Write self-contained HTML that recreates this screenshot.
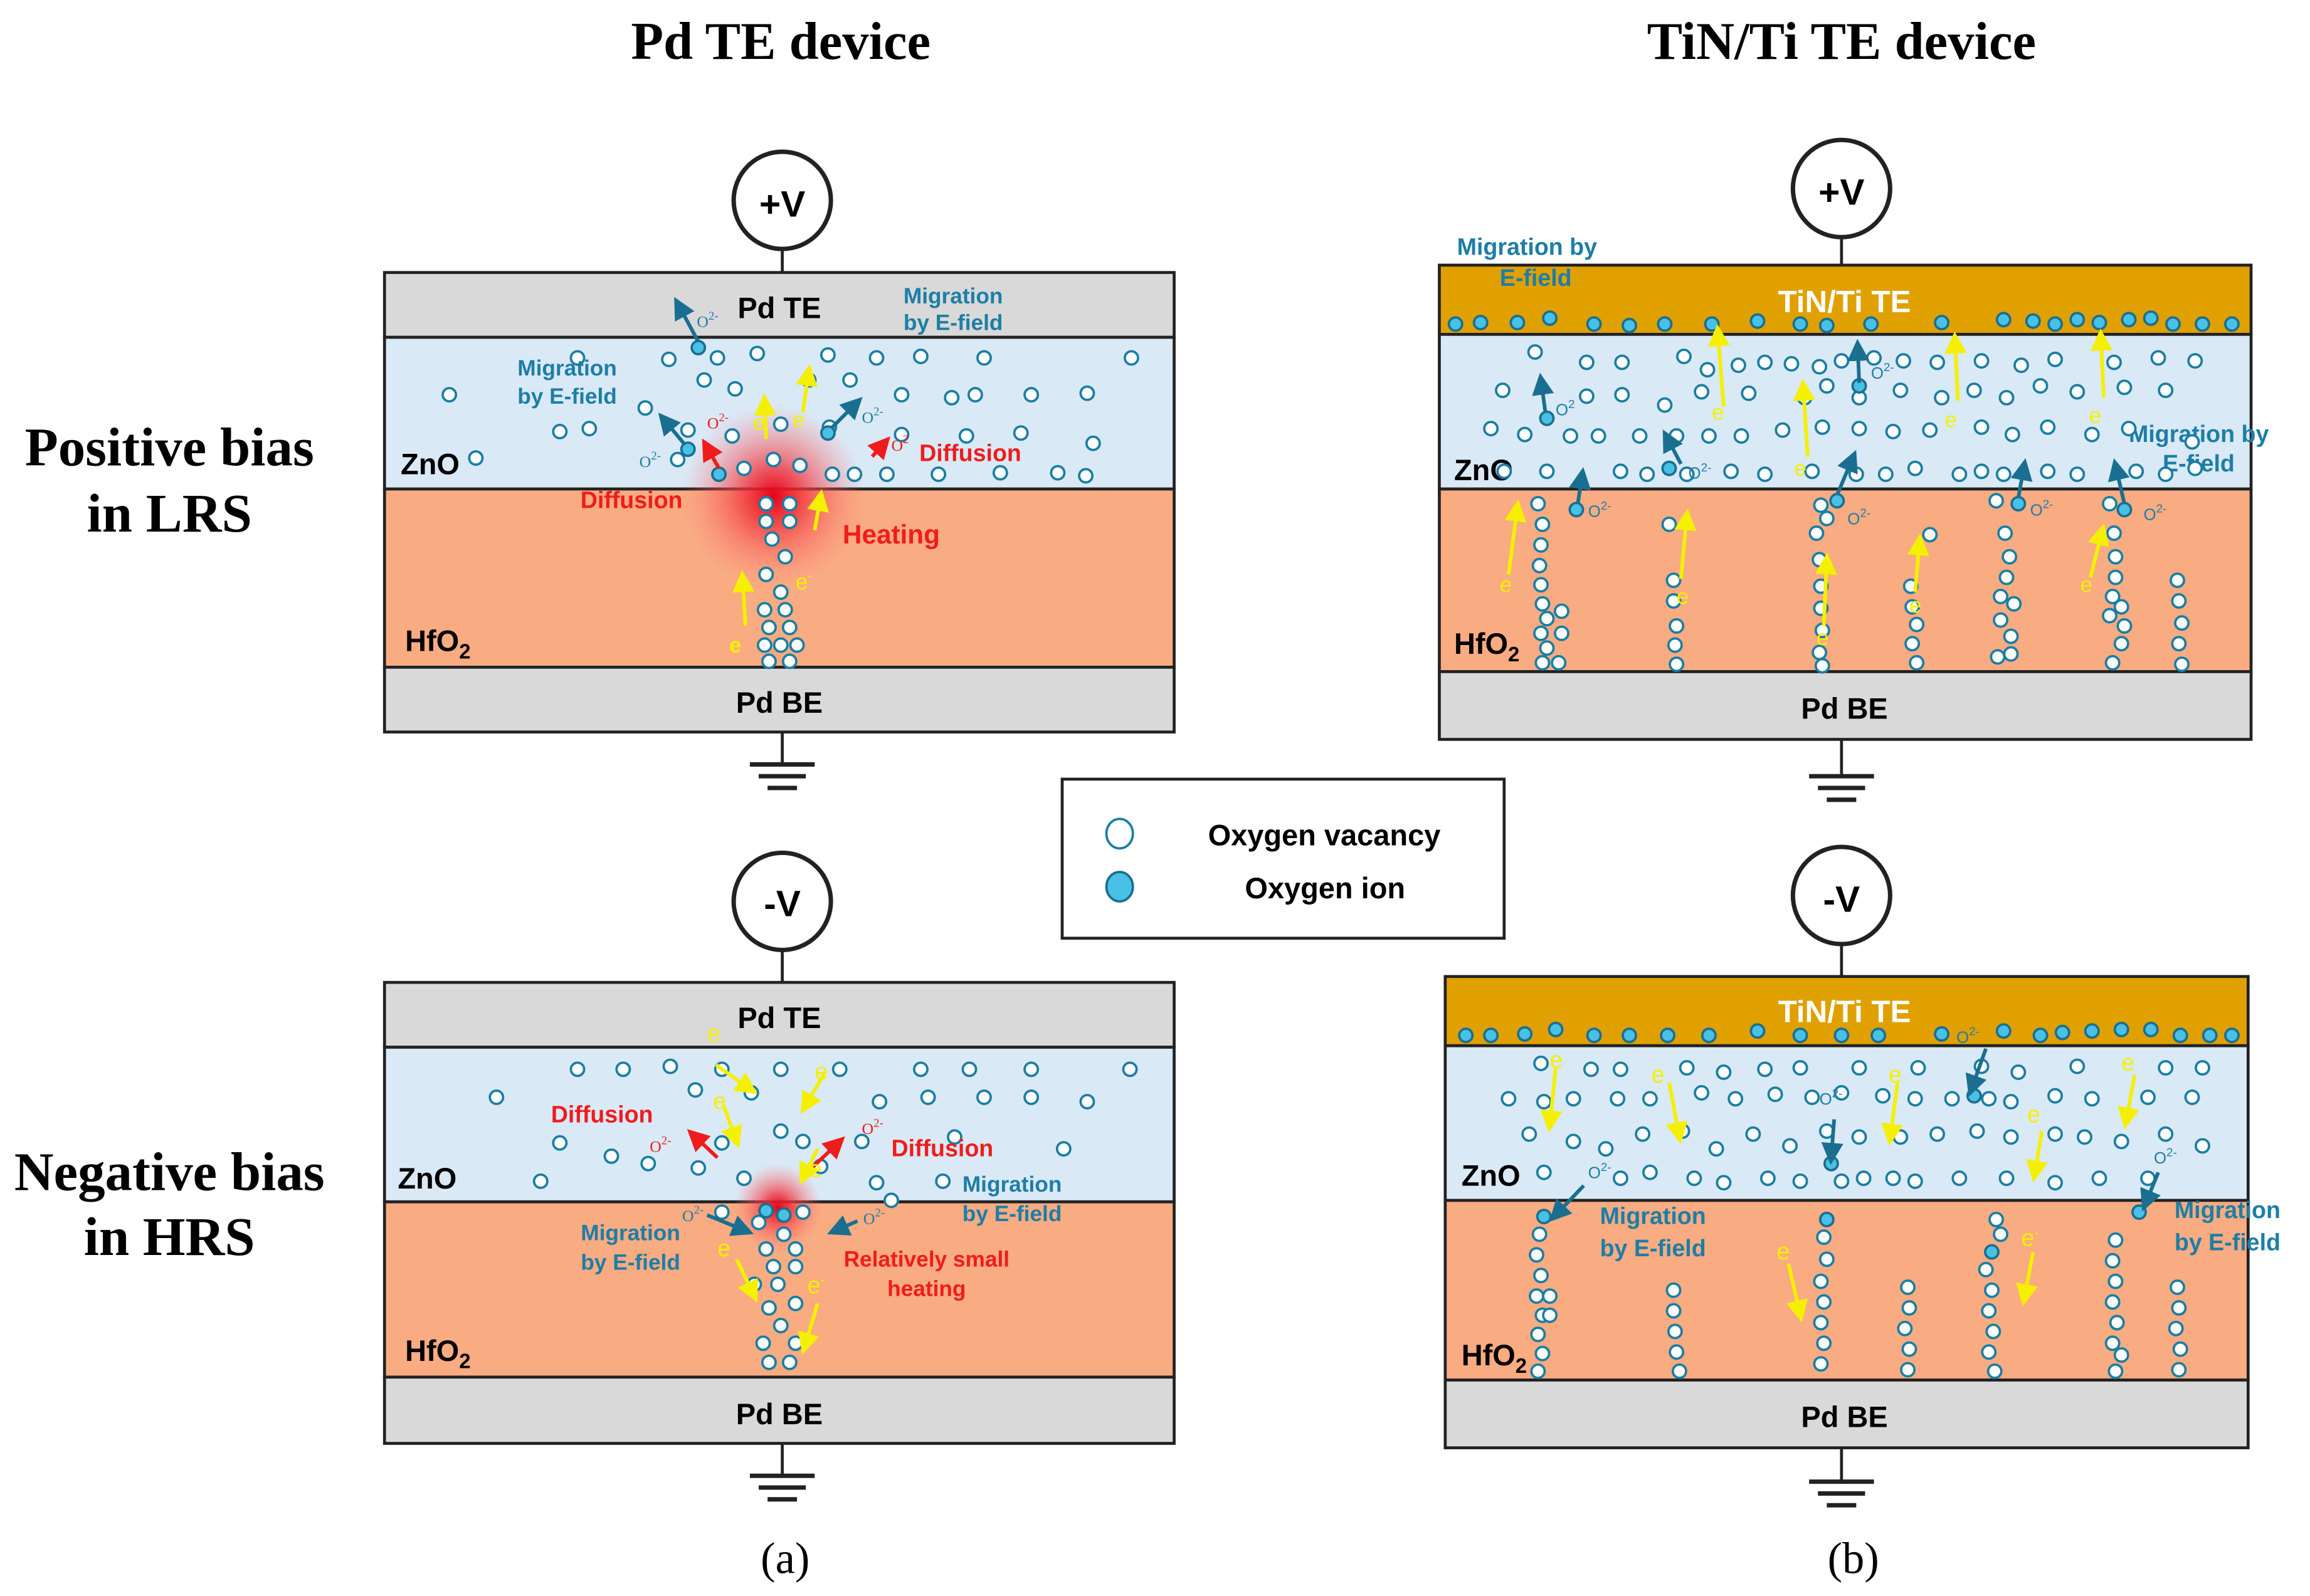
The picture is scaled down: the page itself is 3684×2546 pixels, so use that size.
<!DOCTYPE html>
<html><head><meta charset="utf-8"><style>
html,body{margin:0;padding:0;background:#fff}
svg{display:block}
.v{fill:#fff;stroke:#1a7ea3;stroke-width:1.6}
.i{fill:#49c0e6;stroke:#1a6f90;stroke-width:1.6}
.lb{font-family:"Liberation Sans",sans-serif;font-weight:bold}
.sf{font-family:"Liberation Serif",serif;font-weight:bold}
.bl{fill:#1d7ea6}
.rd{fill:#f01c1c}
.ye{fill:#f4f000}
</style></head><body>
<svg width="3684" height="2546" viewBox="0 0 1568 1083.6" xmlns="http://www.w3.org/2000/svg">
<defs>
<marker id="ab" markerWidth="6" markerHeight="6" refX="4" refY="3" orient="auto"><path d="M0,0 L6,3 L0,6z" fill="#1a6f90"/></marker>
<marker id="ar" markerWidth="6" markerHeight="6" refX="4" refY="3" orient="auto"><path d="M0,0 L6,3 L0,6z" fill="#f01c1c"/></marker>
<marker id="ay" markerWidth="6" markerHeight="6" refX="4" refY="3" orient="auto"><path d="M0,0 L6,3 L0,6z" fill="#f4f000"/></marker>
<radialGradient id="heat"><stop offset="0" stop-color="#e8001a"/><stop offset="0.3" stop-color="#f0303a" stop-opacity="0.8"/><stop offset="1" stop-color="#ff8080" stop-opacity="0"/></radialGradient>
</defs>

<!-- titles -->
<text x="530" y="40" text-anchor="middle" class="sf" font-size="36">Pd TE device</text>
<text x="1250" y="40" text-anchor="middle" class="sf" font-size="36">TiN/Ti TE device</text>
<text x="115" y="316" text-anchor="middle" class="sf" font-size="37">Positive bias</text>
<text x="115" y="361" text-anchor="middle" class="sf" font-size="37">in LRS</text>
<text x="115" y="808" text-anchor="middle" class="sf" font-size="37">Negative bias</text>
<text x="115" y="852" text-anchor="middle" class="sf" font-size="37">in HRS</text>
<text x="533" y="1068" text-anchor="middle" font-family="Liberation Serif,serif" font-size="30">(a)</text>
<text x="1258" y="1068" text-anchor="middle" font-family="Liberation Serif,serif" font-size="30">(b)</text>

<!-- ===== Panel a top ===== -->
<g stroke="#222" stroke-width="2">
<line x1="531" y1="169" x2="531" y2="185"/>
<circle cx="531" cy="136" r="33" fill="#fff" stroke-width="3"/>
<rect x="261" y="185" width="536" height="44" fill="#d9d9d9"/>
<rect x="261" y="229" width="536" height="103" fill="#dae9f6"/>
<rect x="261" y="332" width="536" height="121" fill="#f9ab82"/>
<rect x="261" y="453" width="536" height="44" fill="#d9d9d9"/>
<line x1="531" y1="497" x2="531" y2="518"/>
<line x1="509" y1="519" x2="553" y2="519" stroke-width="3"/>
<line x1="515" y1="527" x2="547" y2="527" stroke-width="3"/>
<line x1="521" y1="535" x2="541" y2="535" stroke-width="3"/>
</g>
<text x="531" y="147" text-anchor="middle" class="lb" font-size="25">+V</text>
<text x="529" y="216" text-anchor="middle" class="lb" font-size="20">Pd TE</text>
<text x="529" y="484" text-anchor="middle" class="lb" font-size="20">Pd BE</text>
<text x="272" y="322" class="lb" font-size="20">ZnO</text>
<text x="275" y="442" class="lb" font-size="20">HfO<tspan font-size="14" dy="5">2</tspan></text>
<circle cx="525" cy="337" r="62" fill="url(#heat)"/>
<g>
<circle class="v" cx="454" cy="244" r="4.5"/><circle class="v" cx="487" cy="243" r="4.5"/><circle class="v" cx="514" cy="240" r="4.5"/><circle class="v" cx="562" cy="241" r="4.5"/><circle class="v" cx="595" cy="243" r="4.5"/><circle class="v" cx="625" cy="242" r="4.5"/><circle class="v" cx="668" cy="243" r="4.5"/><circle class="v" cx="768" cy="243" r="4.5"/><circle class="v" cx="392" cy="243" r="4.5"/>
<circle class="v" cx="305" cy="268" r="4.5"/><circle class="v" cx="438" cy="277" r="4.5"/><circle class="v" cx="478" cy="258" r="4.5"/><circle class="v" cx="499" cy="264" r="4.5"/><circle class="v" cx="549" cy="258" r="4.5"/><circle class="v" cx="577" cy="258" r="4.5"/><circle class="v" cx="612" cy="268" r="4.5"/><circle class="v" cx="646" cy="270" r="4.5"/><circle class="v" cx="662" cy="268" r="4.5"/><circle class="v" cx="700" cy="268" r="4.5"/><circle class="v" cx="738" cy="267" r="4.5"/>
<circle class="v" cx="380" cy="293" r="4.5"/><circle class="v" cx="400" cy="291" r="4.5"/><circle class="v" cx="467" cy="292" r="4.5"/><circle class="v" cx="497" cy="296" r="4.5"/><circle class="v" cx="530" cy="288" r="4.5"/><circle class="v" cx="563" cy="290" r="4.5"/><circle class="v" cx="612" cy="295" r="4.5"/><circle class="v" cx="656" cy="296" r="4.5"/><circle class="v" cx="693" cy="294" r="4.5"/><circle class="v" cx="742" cy="301" r="4.5"/>
<circle class="v" cx="323" cy="311" r="4.5"/><circle class="v" cx="460" cy="312" r="4.5"/><circle class="v" cx="505" cy="318" r="4.5"/><circle class="v" cx="525" cy="312" r="4.5"/><circle class="v" cx="543" cy="316" r="4.5"/><circle class="v" cx="565" cy="322" r="4.5"/><circle class="v" cx="580" cy="322" r="4.5"/><circle class="v" cx="602" cy="322" r="4.5"/><circle class="v" cx="637" cy="322" r="4.5"/><circle class="v" cx="679" cy="321" r="4.5"/><circle class="v" cx="718" cy="321" r="4.5"/><circle class="v" cx="737" cy="323" r="4.5"/>
<circle class="v" cx="520" cy="342" r="4.5"/><circle class="v" cx="536" cy="342" r="4.5"/><circle class="v" cx="520" cy="354" r="4.5"/><circle class="v" cx="536" cy="354" r="4.5"/><circle class="v" cx="524" cy="366" r="4.5"/><circle class="v" cx="533" cy="378" r="4.5"/><circle class="v" cx="520" cy="390" r="4.5"/><circle class="v" cx="530" cy="402" r="4.5"/><circle class="v" cx="519" cy="414" r="4.5"/><circle class="v" cx="533" cy="414" r="4.5"/><circle class="v" cx="522" cy="426" r="4.5"/><circle class="v" cx="536" cy="426" r="4.5"/><circle class="v" cx="519" cy="438" r="4.5"/><circle class="v" cx="530" cy="438" r="4.5"/><circle class="v" cx="541" cy="438" r="4.5"/><circle class="v" cx="522" cy="449" r="4.5"/><circle class="v" cx="536" cy="449" r="4.5"/>
<circle class="i" cx="474" cy="236" r="4.5"/><circle class="i" cx="467" cy="305" r="4.5"/><circle class="i" cx="488" cy="322" r="4.5"/><circle class="i" cx="562" cy="294" r="4.5"/>
</g>
<g stroke-width="2.5" fill="none">
<line x1="474" y1="232" x2="460" y2="206" stroke="#1a6f90" marker-end="url(#ab)"/>
<line x1="465" y1="302" x2="450" y2="284" stroke="#1a6f90" marker-end="url(#ab)"/>
<line x1="565" y1="290" x2="582" y2="273" stroke="#1a6f90" marker-end="url(#ab)"/>
<line x1="488" y1="318" x2="479" y2="302" stroke="#f01c1c" marker-end="url(#ar)"/>
<line x1="592" y1="310" x2="601" y2="300" stroke="#f01c1c" marker-end="url(#ar)"/>
<line x1="506" y1="425" x2="504" y2="392" stroke="#f4f000" marker-end="url(#ay)"/>
<line x1="553" y1="360" x2="557" y2="337" stroke="#f4f000" marker-end="url(#ay)"/>
<line x1="520" y1="298" x2="519" y2="272" stroke="#f4f000" marker-end="url(#ay)"/>
<line x1="545" y1="280" x2="549" y2="252" stroke="#f4f000" marker-end="url(#ay)"/>
</g>
<text x="473" y="222" class="bl" font-size="11">O<tspan font-size="8" dy="-5">2-</tspan></text>
<text x="434" y="317" class="bl" font-size="11">O<tspan font-size="8" dy="-5">2-</tspan></text>
<text x="585" y="287" class="bl" font-size="11">O<tspan font-size="8" dy="-5">2-</tspan></text>
<text x="480" y="291" class="rd" font-size="11">O<tspan font-size="8" dy="-5">2-</tspan></text>
<text x="605" y="306" class="rd" font-size="11">O<tspan font-size="8" dy="-5">2</tspan></text>
<text x="647" y="206" text-anchor="middle" class="lb bl" font-size="15">Migration</text>
<text x="647" y="224" text-anchor="middle" class="lb bl" font-size="15">by E-field</text>
<text x="385" y="255" text-anchor="middle" class="lb bl" font-size="15">Migration</text>
<text x="385" y="274" text-anchor="middle" class="lb bl" font-size="15">by E-field</text>
<text x="394" y="345" class="lb rd" font-size="16">Diffusion</text>
<text x="624" y="313" class="lb rd" font-size="16">Diffusion</text>
<text x="572" y="369" class="lb rd" font-size="18">Heating</text>
<text x="495" y="443" class="lb ye" font-size="15">e</text>
<text x="540" y="400" class="ye" font-size="15" font-family="Liberation Sans">e<tspan font-size="9" dy="-6">-</tspan></text>
<text x="511" y="292" class="ye" font-size="15" font-family="Liberation Sans">e</text>
<text x="538" y="290" class="ye" font-size="15" font-family="Liberation Sans">e</text>

<!-- ===== Panel a bottom ===== -->
<g stroke="#222" stroke-width="2">
<line x1="531" y1="645" x2="531" y2="667"/>
<circle cx="531" cy="612" r="33" fill="#fff" stroke-width="3"/>
<rect x="261" y="667" width="536" height="44" fill="#d9d9d9"/>
<rect x="261" y="711" width="536" height="105" fill="#dae9f6"/>
<rect x="261" y="816" width="536" height="119" fill="#f9ab82"/>
<rect x="261" y="935" width="536" height="45" fill="#d9d9d9"/>
<line x1="531" y1="980" x2="531" y2="1001"/>
<line x1="509" y1="1002" x2="553" y2="1002" stroke-width="3"/>
<line x1="515" y1="1010" x2="547" y2="1010" stroke-width="3"/>
<line x1="521" y1="1018" x2="541" y2="1018" stroke-width="3"/>
</g>
<text x="531" y="622" text-anchor="middle" class="lb" font-size="25">-V</text>
<text x="529" y="698" text-anchor="middle" class="lb" font-size="20">Pd TE</text>
<text x="529" y="967" text-anchor="middle" class="lb" font-size="20">Pd BE</text>
<text x="270" y="807" class="lb" font-size="20">ZnO</text>
<text x="275" y="924" class="lb" font-size="20">HfO<tspan font-size="14" dy="5">2</tspan></text>
<circle cx="528" cy="820" r="30" fill="url(#heat)"/>
<g>
<circle class="v" cx="392" cy="726" r="4.5"/><circle class="v" cx="423" cy="726" r="4.5"/><circle class="v" cx="455" cy="724" r="4.5"/><circle class="v" cx="490" cy="726" r="4.5"/><circle class="v" cx="530" cy="726" r="4.5"/><circle class="v" cx="570" cy="726" r="4.5"/><circle class="v" cx="625" cy="726" r="4.5"/><circle class="v" cx="658" cy="726" r="4.5"/><circle class="v" cx="700" cy="726" r="4.5"/><circle class="v" cx="767" cy="726" r="4.5"/>
<circle class="v" cx="337" cy="745" r="4.5"/><circle class="v" cx="472" cy="740" r="4.5"/><circle class="v" cx="510" cy="742" r="4.5"/><circle class="v" cx="597" cy="748" r="4.5"/><circle class="v" cx="630" cy="745" r="4.5"/><circle class="v" cx="668" cy="745" r="4.5"/><circle class="v" cx="700" cy="745" r="4.5"/><circle class="v" cx="738" cy="748" r="4.5"/>
<circle class="v" cx="380" cy="776" r="4.5"/><circle class="v" cx="415" cy="785" r="4.5"/><circle class="v" cx="490" cy="776" r="4.5"/><circle class="v" cx="530" cy="768" r="4.5"/><circle class="v" cx="545" cy="775" r="4.5"/><circle class="v" cx="585" cy="775" r="4.5"/><circle class="v" cx="648" cy="772" r="4.5"/><circle class="v" cx="722" cy="780" r="4.5"/>
<circle class="v" cx="367" cy="802" r="4.5"/><circle class="v" cx="440" cy="790" r="4.5"/><circle class="v" cx="474" cy="793" r="4.5"/><circle class="v" cx="505" cy="800" r="4.5"/><circle class="v" cx="557" cy="792" r="4.5"/><circle class="v" cx="595" cy="803" r="4.5"/><circle class="v" cx="640" cy="802" r="4.5"/><circle class="v" cx="605" cy="815" r="4.5"/>
<circle class="v" cx="490" cy="823" r="4.5"/><circle class="v" cx="545" cy="823" r="4.5"/><circle class="v" cx="515" cy="830" r="4.5"/><circle class="v" cx="532" cy="838" r="4.5"/><circle class="v" cx="520" cy="848" r="4.5"/><circle class="v" cx="540" cy="848" r="4.5"/><circle class="v" cx="525" cy="860" r="4.5"/><circle class="v" cx="540" cy="860" r="4.5"/><circle class="v" cx="512" cy="872" r="4.5"/><circle class="v" cx="528" cy="872" r="4.5"/><circle class="v" cx="540" cy="885" r="4.5"/><circle class="v" cx="522" cy="888" r="4.5"/><circle class="v" cx="530" cy="900" r="4.5"/><circle class="v" cx="518" cy="912" r="4.5"/><circle class="v" cx="540" cy="912" r="4.5"/><circle class="v" cx="522" cy="925" r="4.5"/><circle class="v" cx="536" cy="925" r="4.5"/>
<circle class="i" cx="520" cy="822" r="4.5"/><circle class="i" cx="532" cy="825" r="4.5"/>
</g>
<g stroke-width="2.5" fill="none">
<line x1="487" y1="786" x2="470" y2="770" stroke="#f01c1c" marker-end="url(#ar)"/>
<line x1="550" y1="794" x2="570" y2="775" stroke="#f01c1c" marker-end="url(#ar)"/>
<line x1="480" y1="825" x2="507" y2="836" stroke="#1a6f90" marker-end="url(#ab)"/>
<line x1="582" y1="829" x2="566" y2="836" stroke="#1a6f90" marker-end="url(#ab)"/>
<line x1="486" y1="723" x2="510" y2="740" stroke="#f4f000" marker-end="url(#ay)"/>
<line x1="560" y1="728" x2="546" y2="752" stroke="#f4f000" marker-end="url(#ay)"/>
<line x1="491" y1="750" x2="500" y2="775" stroke="#f4f000" marker-end="url(#ay)"/>
<line x1="555" y1="780" x2="545" y2="800" stroke="#f4f000" marker-end="url(#ay)"/>
<line x1="500" y1="855" x2="512" y2="880" stroke="#f4f000" marker-end="url(#ay)"/>
<line x1="555" y1="885" x2="546" y2="915" stroke="#f4f000" marker-end="url(#ay)"/>
</g>
<text x="480" y="707" class="ye" font-size="16" font-family="Liberation Sans">e</text>
<text x="553" y="733" class="ye" font-size="16" font-family="Liberation Sans">e</text>
<text x="484" y="753" class="ye" font-size="16" font-family="Liberation Sans">e</text>
<text x="549" y="799" class="ye" font-size="16" font-family="Liberation Sans">e</text>
<text x="487" y="853" class="ye" font-size="16" font-family="Liberation Sans">e</text>
<text x="548" y="878" class="ye" font-size="16" font-family="Liberation Sans">e<tspan font-size="9" dy="-6">-</tspan></text>
<text x="441" y="782" class="rd" font-size="11">O<tspan font-size="8" dy="-5">2-</tspan></text>
<text x="585" y="770" class="rd" font-size="11">O<tspan font-size="8" dy="-5">2-</tspan></text>
<text x="463" y="829" class="bl" font-size="11">O<tspan font-size="8" dy="-5">2-</tspan></text>
<text x="586" y="831" class="bl" font-size="11">O<tspan font-size="8" dy="-5">2-</tspan></text>
<text x="374" y="762" class="lb rd" font-size="16">Diffusion</text>
<text x="605" y="785" class="lb rd" font-size="16">Diffusion</text>
<text x="687" y="809" text-anchor="middle" class="lb bl" font-size="15">Migration</text>
<text x="687" y="829" text-anchor="middle" class="lb bl" font-size="15">by E-field</text>
<text x="428" y="842" text-anchor="middle" class="lb bl" font-size="15">Migration</text>
<text x="428" y="862" text-anchor="middle" class="lb bl" font-size="15">by E-field</text>
<text x="629" y="860" text-anchor="middle" class="lb rd" font-size="15">Relatively small</text>
<text x="629" y="880" text-anchor="middle" class="lb rd" font-size="15">heating</text>

<!-- ===== Legend ===== -->
<rect x="721" y="529" width="300" height="108" fill="#fff" stroke="#222" stroke-width="2"/>
<ellipse class="v" cx="760" cy="566" rx="9" ry="10" stroke-width="2"/>
<ellipse class="i" cx="760" cy="602" rx="9" ry="10" stroke-width="2"/>
<text x="820" y="574" class="lb" font-size="20">Oxygen vacancy</text>
<text x="845" y="610" class="lb" font-size="20">Oxygen ion</text>

<!-- ===== Panel b top ===== -->
<g stroke="#222" stroke-width="2">
<line x1="1250" y1="160" x2="1250" y2="180"/>
<circle cx="1250" cy="128" r="33" fill="#fff" stroke-width="3"/>
<rect x="977" y="180" width="551" height="47" fill="#e0a000"/>
<rect x="977" y="227" width="551" height="105" fill="#dae9f6"/>
<rect x="977" y="332" width="551" height="124" fill="#f9ab82"/>
<rect x="977" y="456" width="551" height="46" fill="#d9d9d9"/>
<line x1="1250" y1="502" x2="1250" y2="526"/>
<line x1="1228" y1="527" x2="1272" y2="527" stroke-width="3"/>
<line x1="1234" y1="535" x2="1266" y2="535" stroke-width="3"/>
<line x1="1240" y1="543" x2="1260" y2="543" stroke-width="3"/>
</g>
<text x="1250" y="139" text-anchor="middle" class="lb" font-size="25">+V</text>
<text x="1252" y="212" text-anchor="middle" class="lb" font-size="21" fill="#fff">TiN/Ti TE</text>
<text x="1252" y="488" text-anchor="middle" class="lb" font-size="20">Pd BE</text>
<text x="987" y="326" class="lb" font-size="20">ZnO</text>
<text x="987" y="444" class="lb" font-size="20">HfO<tspan font-size="14" dy="5">2</tspan></text>
<text x="989" y="173" class="lb bl" font-size="16">Migration by</text>
<text x="1018" y="194" class="lb bl" font-size="16">E-field</text>
<text x="1445" y="300" class="lb bl" font-size="16">Migration by</text>
<text x="1468" y="320" class="lb bl" font-size="16">E-field</text>
<g>
<circle class="i" cx="988" cy="220" r="4.5"/><circle class="i" cx="1005" cy="219" r="4.5"/><circle class="i" cx="1030" cy="219" r="4.5"/><circle class="i" cx="1052" cy="216" r="4.5"/><circle class="i" cx="1082" cy="220" r="4.5"/><circle class="i" cx="1106" cy="221" r="4.5"/><circle class="i" cx="1130" cy="220" r="4.5"/><circle class="i" cx="1162" cy="220" r="4.5"/><circle class="i" cx="1193" cy="218" r="4.5"/><circle class="i" cx="1222" cy="220" r="4.5"/><circle class="i" cx="1240" cy="221" r="4.5"/><circle class="i" cx="1270" cy="220" r="4.5"/><circle class="i" cx="1318" cy="219" r="4.5"/><circle class="i" cx="1360" cy="217" r="4.5"/><circle class="i" cx="1380" cy="218" r="4.5"/><circle class="i" cx="1395" cy="220" r="4.5"/><circle class="i" cx="1410" cy="217" r="4.5"/><circle class="i" cx="1425" cy="219" r="4.5"/><circle class="i" cx="1445" cy="217" r="4.5"/><circle class="i" cx="1460" cy="216" r="4.5"/><circle class="i" cx="1475" cy="220" r="4.5"/><circle class="i" cx="1495" cy="220" r="4.5"/><circle class="i" cx="1515" cy="220" r="4.5"/>
<circle class="v" cx="1042" cy="239" r="4.5"/><circle class="v" cx="1077" cy="246" r="4.5"/><circle class="v" cx="1101" cy="246" r="4.5"/><circle class="v" cx="1143" cy="242" r="4.5"/><circle class="v" cx="1159" cy="251" r="4.5"/><circle class="v" cx="1180" cy="248" r="4.5"/><circle class="v" cx="1198" cy="246" r="4.5"/><circle class="v" cx="1216" cy="247" r="4.5"/><circle class="v" cx="1235" cy="249" r="4.5"/><circle class="v" cx="1250" cy="245" r="4.5"/><circle class="v" cx="1272" cy="243" r="4.5"/><circle class="v" cx="1292" cy="245" r="4.5"/><circle class="v" cx="1315" cy="246" r="4.5"/><circle class="v" cx="1345" cy="245" r="4.5"/><circle class="v" cx="1372" cy="248" r="4.5"/><circle class="v" cx="1395" cy="244" r="4.5"/><circle class="v" cx="1435" cy="246" r="4.5"/><circle class="v" cx="1465" cy="243" r="4.5"/><circle class="v" cx="1490" cy="245" r="4.5"/>
<circle class="v" cx="1020" cy="265" r="4.5"/><circle class="v" cx="1077" cy="269" r="4.5"/><circle class="v" cx="1101" cy="268" r="4.5"/><circle class="v" cx="1130" cy="275" r="4.5"/><circle class="v" cx="1155" cy="266" r="4.5"/><circle class="v" cx="1187" cy="267" r="4.5"/><circle class="v" cx="1225" cy="270" r="4.5"/><circle class="v" cx="1240" cy="262" r="4.5"/><circle class="v" cx="1262" cy="270" r="4.5"/><circle class="v" cx="1290" cy="265" r="4.5"/><circle class="v" cx="1318" cy="270" r="4.5"/><circle class="v" cx="1340" cy="265" r="4.5"/><circle class="v" cx="1362" cy="270" r="4.5"/><circle class="v" cx="1385" cy="262" r="4.5"/><circle class="v" cx="1410" cy="266" r="4.5"/><circle class="v" cx="1442" cy="263" r="4.5"/><circle class="v" cx="1470" cy="265" r="4.5"/>
<circle class="v" cx="1012" cy="291" r="4.5"/><circle class="v" cx="1035" cy="295" r="4.5"/><circle class="v" cx="1066" cy="296" r="4.5"/><circle class="v" cx="1085" cy="296" r="4.5"/><circle class="v" cx="1113" cy="296" r="4.5"/><circle class="v" cx="1138" cy="296" r="4.5"/><circle class="v" cx="1160" cy="296" r="4.5"/><circle class="v" cx="1182" cy="296" r="4.5"/><circle class="v" cx="1210" cy="292" r="4.5"/><circle class="v" cx="1237" cy="290" r="4.5"/><circle class="v" cx="1262" cy="291" r="4.5"/><circle class="v" cx="1285" cy="293" r="4.5"/><circle class="v" cx="1310" cy="292" r="4.5"/><circle class="v" cx="1345" cy="290" r="4.5"/><circle class="v" cx="1366" cy="295" r="4.5"/><circle class="v" cx="1390" cy="290" r="4.5"/><circle class="v" cx="1420" cy="295" r="4.5"/><circle class="v" cx="1445" cy="291" r="4.5"/><circle class="v" cx="1488" cy="300" r="4.5"/>
<circle class="v" cx="1021" cy="320" r="4.5"/><circle class="v" cx="1050" cy="320" r="4.5"/><circle class="v" cx="1100" cy="320" r="4.5"/><circle class="v" cx="1118" cy="322" r="4.5"/><circle class="v" cx="1145" cy="322" r="4.5"/><circle class="v" cx="1175" cy="320" r="4.5"/><circle class="v" cx="1198" cy="322" r="4.5"/><circle class="v" cx="1230" cy="320" r="4.5"/><circle class="v" cx="1260" cy="322" r="4.5"/><circle class="v" cx="1280" cy="322" r="4.5"/><circle class="v" cx="1300" cy="318" r="4.5"/><circle class="v" cx="1330" cy="322" r="4.5"/><circle class="v" cx="1345" cy="320" r="4.5"/><circle class="v" cx="1360" cy="322" r="4.5"/><circle class="v" cx="1390" cy="320" r="4.5"/><circle class="v" cx="1410" cy="322" r="4.5"/><circle class="v" cx="1450" cy="320" r="4.5"/><circle class="v" cx="1470" cy="322" r="4.5"/><circle class="v" cx="1490" cy="318" r="4.5"/>
<circle class="i" cx="1050" cy="284" r="4.5"/><circle class="i" cx="1133" cy="318" r="4.5"/><circle class="i" cx="1262" cy="262" r="4.5"/><circle class="i" cx="1070" cy="346" r="4.5"/><circle class="i" cx="1247" cy="340" r="4.5"/><circle class="i" cx="1370" cy="342" r="4.5"/><circle class="i" cx="1442" cy="346" r="4.5"/>
</g>
<g class="v">
<circle class="v" cx="1044" cy="342" r="4.5"/><circle cx="1047" cy="356" r="4.5"/><circle cx="1046" cy="370" r="4.5"/><circle cx="1045" cy="384" r="4.5"/><circle cx="1046" cy="397" r="4.5"/><circle cx="1047" cy="410" r="4.5"/><circle cx="1050" cy="420" r="4.5"/><circle cx="1046" cy="430" r="4.5"/><circle cx="1050" cy="440" r="4.5"/><circle cx="1058" cy="450" r="4.5"/><circle cx="1047" cy="450" r="4.5"/><circle cx="1060" cy="415" r="4.5"/><circle cx="1060" cy="430" r="4.5"/>
<circle cx="1133" cy="356" r="4.5"/><circle cx="1136" cy="394" r="4.5"/><circle cx="1136" cy="408" r="4.5"/><circle cx="1138" cy="425" r="4.5"/><circle cx="1137" cy="438" r="4.5"/><circle cx="1138" cy="451" r="4.5"/>
<circle cx="1236" cy="343" r="4.5"/><circle cx="1240" cy="352" r="4.5"/><circle cx="1233" cy="362" r="4.5"/><circle cx="1235" cy="380" r="4.5"/><circle cx="1236" cy="398" r="4.5"/><circle cx="1236" cy="413" r="4.5"/><circle cx="1237" cy="428" r="4.5"/><circle cx="1235" cy="443" r="4.5"/><circle cx="1237" cy="452" r="4.5"/>
<circle cx="1310" cy="363" r="4.5"/><circle cx="1297" cy="398" r="4.5"/><circle cx="1298" cy="412" r="4.5"/><circle cx="1301" cy="424" r="4.5"/><circle cx="1298" cy="437" r="4.5"/><circle cx="1301" cy="450" r="4.5"/>
<circle cx="1355" cy="340" r="4.5"/><circle cx="1361" cy="362" r="4.5"/><circle cx="1364" cy="378" r="4.5"/><circle cx="1362" cy="392" r="4.5"/><circle cx="1358" cy="405" r="4.5"/><circle cx="1367" cy="410" r="4.5"/><circle cx="1358" cy="421" r="4.5"/><circle cx="1365" cy="432" r="4.5"/><circle cx="1356" cy="446" r="4.5"/><circle cx="1365" cy="444" r="4.5"/>
<circle cx="1432" cy="342" r="4.5"/><circle cx="1435" cy="362" r="4.5"/><circle cx="1436" cy="378" r="4.5"/><circle cx="1436" cy="392" r="4.5"/><circle cx="1434" cy="405" r="4.5"/><circle cx="1432" cy="418" r="4.5"/><circle cx="1440" cy="412" r="4.5"/><circle cx="1442" cy="425" r="4.5"/><circle cx="1440" cy="437" r="4.5"/><circle cx="1434" cy="450" r="4.5"/>
<circle cx="1478" cy="394" r="4.5"/><circle cx="1479" cy="408" r="4.5"/><circle cx="1481" cy="423" r="4.5"/><circle cx="1479" cy="437" r="4.5"/><circle cx="1481" cy="451" r="4.5"/>
</g>
<g stroke-width="2.5" fill="none">
<line x1="1024" y1="390" x2="1030" y2="344" stroke="#f4f000" marker-end="url(#ay)"/>
<line x1="1141" y1="393" x2="1145" y2="350" stroke="#f4f000" marker-end="url(#ay)"/>
<line x1="1238" y1="425" x2="1240" y2="380" stroke="#f4f000" marker-end="url(#ay)"/>
<line x1="1300" y1="402" x2="1303" y2="367" stroke="#f4f000" marker-end="url(#ay)"/>
<line x1="1419" y1="392" x2="1427" y2="360" stroke="#f4f000" marker-end="url(#ay)"/>
<line x1="1170" y1="276" x2="1166" y2="225" stroke="#f4f000" marker-end="url(#ay)"/>
<line x1="1227" y1="310" x2="1224" y2="262" stroke="#f4f000" marker-end="url(#ay)"/>
<line x1="1329" y1="272" x2="1327" y2="230" stroke="#f4f000" marker-end="url(#ay)"/>
<line x1="1428" y1="270" x2="1426" y2="228" stroke="#f4f000" marker-end="url(#ay)"/>
<line x1="1071" y1="342" x2="1074" y2="322" stroke="#1a6f90" marker-end="url(#ab)"/>
<line x1="1049" y1="280" x2="1046" y2="258" stroke="#1a6f90" marker-end="url(#ab)"/>
<line x1="1141" y1="315" x2="1131" y2="296" stroke="#1a6f90" marker-end="url(#ab)"/>
<line x1="1247" y1="336" x2="1258" y2="310" stroke="#1a6f90" marker-end="url(#ab)"/>
<line x1="1262" y1="260" x2="1261" y2="235" stroke="#1a6f90" marker-end="url(#ab)"/>
<line x1="1370" y1="338" x2="1374" y2="316" stroke="#1a6f90" marker-end="url(#ab)"/>
<line x1="1442" y1="342" x2="1436" y2="316" stroke="#1a6f90" marker-end="url(#ab)"/>
</g>
<g class="ye" font-size="15" font-family="Liberation Sans">
<text x="1018" y="402">e</text><text x="1138" y="410">e</text><text x="1233" y="438">e</text><text x="1296" y="416">e</text><text x="1412" y="402">e</text>
<text x="1162" y="285">e</text><text x="1218" y="323">e</text><text x="1320" y="290">e</text><text x="1418" y="287">e</text>
</g>
<g class="bl" font-size="11" font-family="Liberation Sans">
<text x="1056" y="282">O<tspan font-size="8" dy="-5">2</tspan></text>
<text x="1146" y="325">O<tspan font-size="8" dy="-5">2-</tspan></text>
<text x="1270" y="257">O<tspan font-size="8" dy="-5">2-</tspan></text>
<text x="1078" y="351">O<tspan font-size="8" dy="-5">2-</tspan></text>
<text x="1254" y="356">O<tspan font-size="8" dy="-5">2-</tspan></text>
<text x="1378" y="350">O<tspan font-size="8" dy="-5">2-</tspan></text>
<text x="1455" y="353">O<tspan font-size="8" dy="-5">2-</tspan></text>
</g>

<!-- ===== Panel b bottom ===== -->
<g stroke="#222" stroke-width="2">
<line x1="1250" y1="641" x2="1250" y2="663"/>
<circle cx="1250" cy="608" r="33" fill="#fff" stroke-width="3"/>
<rect x="981" y="663" width="545" height="47" fill="#e0a000"/>
<rect x="981" y="710" width="545" height="105" fill="#dae9f6"/>
<rect x="981" y="815" width="545" height="122" fill="#f9ab82"/>
<rect x="981" y="937" width="545" height="46" fill="#d9d9d9"/>
<line x1="1250" y1="983" x2="1250" y2="1005"/>
<line x1="1228" y1="1006" x2="1272" y2="1006" stroke-width="3"/>
<line x1="1234" y1="1014" x2="1266" y2="1014" stroke-width="3"/>
<line x1="1240" y1="1022" x2="1260" y2="1022" stroke-width="3"/>
</g>
<text x="1250" y="619" text-anchor="middle" class="lb" font-size="25">-V</text>
<text x="1252" y="694" text-anchor="middle" class="lb" font-size="21" fill="#fff">TiN/Ti TE</text>
<text x="1252" y="969" text-anchor="middle" class="lb" font-size="20">Pd BE</text>
<text x="992" y="805" class="lb" font-size="20">ZnO</text>
<text x="992" y="927" class="lb" font-size="20">HfO<tspan font-size="14" dy="5">2</tspan></text>
<text x="1122" y="831" text-anchor="middle" class="lb bl" font-size="16">Migration</text>
<text x="1122" y="853" text-anchor="middle" class="lb bl" font-size="16">by E-field</text>
<text x="1512" y="827" text-anchor="middle" class="lb bl" font-size="16">Migration</text>
<text x="1512" y="849" text-anchor="middle" class="lb bl" font-size="16">by E-field</text>
<g>
<circle class="i" cx="995" cy="703" r="4.5"/><circle class="i" cx="1012" cy="703" r="4.5"/><circle class="i" cx="1035" cy="702" r="4.5"/><circle class="i" cx="1056" cy="699" r="4.5"/><circle class="i" cx="1082" cy="703" r="4.5"/><circle class="i" cx="1106" cy="703" r="4.5"/><circle class="i" cx="1132" cy="703" r="4.5"/><circle class="i" cx="1160" cy="703" r="4.5"/><circle class="i" cx="1193" cy="700" r="4.5"/><circle class="i" cx="1222" cy="703" r="4.5"/><circle class="i" cx="1250" cy="703" r="4.5"/><circle class="i" cx="1275" cy="703" r="4.5"/><circle class="i" cx="1318" cy="702" r="4.5"/><circle class="i" cx="1360" cy="700" r="4.5"/><circle class="i" cx="1385" cy="703" r="4.5"/><circle class="i" cx="1400" cy="701" r="4.5"/><circle class="i" cx="1420" cy="700" r="4.5"/><circle class="i" cx="1440" cy="699" r="4.5"/><circle class="i" cx="1460" cy="699" r="4.5"/><circle class="i" cx="1480" cy="703" r="4.5"/><circle class="i" cx="1500" cy="703" r="4.5"/><circle class="i" cx="1515" cy="703" r="4.5"/>
<circle class="v" cx="1046" cy="722" r="4.5"/><circle class="v" cx="1080" cy="726" r="4.5"/><circle class="v" cx="1100" cy="726" r="4.5"/><circle class="v" cx="1145" cy="725" r="4.5"/><circle class="v" cx="1170" cy="728" r="4.5"/><circle class="v" cx="1198" cy="726" r="4.5"/><circle class="v" cx="1222" cy="725" r="4.5"/><circle class="v" cx="1262" cy="725" r="4.5"/><circle class="v" cx="1302" cy="725" r="4.5"/><circle class="v" cx="1345" cy="724" r="4.5"/><circle class="v" cx="1370" cy="728" r="4.5"/><circle class="v" cx="1410" cy="724" r="4.5"/><circle class="v" cx="1470" cy="725" r="4.5"/><circle class="v" cx="1495" cy="725" r="4.5"/>
<circle class="v" cx="1024" cy="746" r="4.5"/><circle class="v" cx="1048" cy="748" r="4.5"/><circle class="v" cx="1068" cy="746" r="4.5"/><circle class="v" cx="1098" cy="746" r="4.5"/><circle class="v" cx="1120" cy="746" r="4.5"/><circle class="v" cx="1155" cy="742" r="4.5"/><circle class="v" cx="1178" cy="746" r="4.5"/><circle class="v" cx="1205" cy="743" r="4.5"/><circle class="v" cx="1230" cy="745" r="4.5"/><circle class="v" cx="1250" cy="742" r="4.5"/><circle class="v" cx="1278" cy="744" r="4.5"/><circle class="v" cx="1300" cy="746" r="4.5"/><circle class="v" cx="1325" cy="746" r="4.5"/><circle class="v" cx="1350" cy="746" r="4.5"/><circle class="v" cx="1365" cy="748" r="4.5"/><circle class="v" cx="1395" cy="744" r="4.5"/><circle class="v" cx="1420" cy="746" r="4.5"/><circle class="v" cx="1458" cy="745" r="4.5"/><circle class="v" cx="1488" cy="745" r="4.5"/>
<circle class="v" cx="1038" cy="770" r="4.5"/><circle class="v" cx="1068" cy="775" r="4.5"/><circle class="v" cx="1090" cy="780" r="4.5"/><circle class="v" cx="1115" cy="770" r="4.5"/><circle class="v" cx="1142" cy="768" r="4.5"/><circle class="v" cx="1165" cy="780" r="4.5"/><circle class="v" cx="1190" cy="770" r="4.5"/><circle class="v" cx="1215" cy="778" r="4.5"/><circle class="v" cx="1240" cy="768" r="4.5"/><circle class="v" cx="1262" cy="772" r="4.5"/><circle class="v" cx="1290" cy="772" r="4.5"/><circle class="v" cx="1315" cy="770" r="4.5"/><circle class="v" cx="1342" cy="768" r="4.5"/><circle class="v" cx="1365" cy="772" r="4.5"/><circle class="v" cx="1395" cy="770" r="4.5"/><circle class="v" cx="1415" cy="772" r="4.5"/><circle class="v" cx="1440" cy="775" r="4.5"/><circle class="v" cx="1470" cy="770" r="4.5"/><circle class="v" cx="1495" cy="778" r="4.5"/>
<circle class="v" cx="1048" cy="796" r="4.5"/><circle class="v" cx="1100" cy="800" r="4.5"/><circle class="v" cx="1120" cy="796" r="4.5"/><circle class="v" cx="1150" cy="800" r="4.5"/><circle class="v" cx="1170" cy="803" r="4.5"/><circle class="v" cx="1200" cy="800" r="4.5"/><circle class="v" cx="1222" cy="802" r="4.5"/><circle class="v" cx="1250" cy="802" r="4.5"/><circle class="v" cx="1265" cy="800" r="4.5"/><circle class="v" cx="1285" cy="800" r="4.5"/><circle class="v" cx="1300" cy="802" r="4.5"/><circle class="v" cx="1330" cy="800" r="4.5"/><circle class="v" cx="1362" cy="800" r="4.5"/><circle class="v" cx="1395" cy="803" r="4.5"/><circle class="v" cx="1425" cy="800" r="4.5"/><circle class="v" cx="1458" cy="800" r="4.5"/>
<circle class="i" cx="1340" cy="744" r="4.5"/><circle class="i" cx="1243" cy="790" r="4.5"/><circle class="i" cx="1048" cy="826" r="4.5"/><circle class="i" cx="1452" cy="823" r="4.5"/><circle class="i" cx="1240" cy="828" r="4.5"/><circle class="i" cx="1352" cy="850" r="4.5"/>
</g>
<g class="v">
<circle cx="1045" cy="838" r="4.5"/><circle cx="1043" cy="852" r="4.5"/><circle cx="1046" cy="866" r="4.5"/><circle cx="1043" cy="880" r="4.5"/><circle cx="1047" cy="893" r="4.5"/><circle cx="1044" cy="906" r="4.5"/><circle cx="1047" cy="919" r="4.5"/><circle cx="1044" cy="931" r="4.5"/><circle cx="1052" cy="880" r="4.5"/><circle cx="1052" cy="893" r="4.5"/>
<circle cx="1136" cy="876" r="4.5"/><circle cx="1136" cy="890" r="4.5"/><circle cx="1137" cy="904" r="4.5"/><circle cx="1138" cy="918" r="4.5"/><circle cx="1140" cy="931" r="4.5"/>
<circle cx="1238" cy="840" r="4.5"/><circle cx="1240" cy="855" r="4.5"/><circle cx="1236" cy="870" r="4.5"/><circle cx="1238" cy="884" r="4.5"/><circle cx="1236" cy="898" r="4.5"/><circle cx="1238" cy="912" r="4.5"/><circle cx="1236" cy="926" r="4.5"/>
<circle cx="1295" cy="874" r="4.5"/><circle cx="1296" cy="888" r="4.5"/><circle cx="1293" cy="902" r="4.5"/><circle cx="1296" cy="916" r="4.5"/><circle cx="1295" cy="930" r="4.5"/>
<circle cx="1355" cy="828" r="4.5"/><circle cx="1358" cy="838" r="4.5"/><circle cx="1348" cy="862" r="4.5"/><circle cx="1352" cy="876" r="4.5"/><circle cx="1350" cy="890" r="4.5"/><circle cx="1353" cy="904" r="4.5"/><circle cx="1350" cy="918" r="4.5"/><circle cx="1354" cy="931" r="4.5"/>
<circle cx="1436" cy="842" r="4.5"/><circle cx="1434" cy="856" r="4.5"/><circle cx="1436" cy="870" r="4.5"/><circle cx="1434" cy="884" r="4.5"/><circle cx="1437" cy="898" r="4.5"/><circle cx="1434" cy="912" r="4.5"/><circle cx="1440" cy="920" r="4.5"/><circle cx="1436" cy="931" r="4.5"/>
<circle cx="1478" cy="874" r="4.5"/><circle cx="1479" cy="888" r="4.5"/><circle cx="1477" cy="902" r="4.5"/><circle cx="1480" cy="916" r="4.5"/><circle cx="1479" cy="930" r="4.5"/>
</g>
<g stroke-width="2.5" fill="none">
<line x1="1056" y1="725" x2="1052" y2="764" stroke="#f4f000" marker-end="url(#ay)"/>
<line x1="1133" y1="735" x2="1140" y2="772" stroke="#f4f000" marker-end="url(#ay)"/>
<line x1="1288" y1="735" x2="1283" y2="773" stroke="#f4f000" marker-end="url(#ay)"/>
<line x1="1386" y1="768" x2="1381" y2="798" stroke="#f4f000" marker-end="url(#ay)"/>
<line x1="1449" y1="730" x2="1443" y2="762" stroke="#f4f000" marker-end="url(#ay)"/>
<line x1="1214" y1="858" x2="1222" y2="893" stroke="#f4f000" marker-end="url(#ay)"/>
<line x1="1380" y1="850" x2="1374" y2="882" stroke="#f4f000" marker-end="url(#ay)"/>
<line x1="1348" y1="712" x2="1338" y2="740" stroke="#1a6f90" marker-end="url(#ab)"/>
<line x1="1245" y1="760" x2="1243" y2="786" stroke="#1a6f90" marker-end="url(#ab)"/>
<line x1="1075" y1="805" x2="1055" y2="826" stroke="#1a6f90" marker-end="url(#ab)"/>
<line x1="1465" y1="796" x2="1456" y2="818" stroke="#1a6f90" marker-end="url(#ab)"/>
</g>
<g class="ye" font-size="16" font-family="Liberation Sans">
<text x="1052" y="725">e</text><text x="1121" y="735">e</text><text x="1282" y="735">e</text><text x="1376" y="762">e</text><text x="1440" y="727">e</text><text x="1206" y="855">e</text><text x="1372" y="846">e<tspan font-size="9" dy="-6">-</tspan></text>
</g>
<g class="bl" font-size="11" font-family="Liberation Sans">
<text x="1328" y="708">O<tspan font-size="8" dy="-5">2-</tspan></text>
<text x="1235" y="750">O<tspan font-size="8" dy="-5">2-</tspan></text>
<text x="1078" y="800">O<tspan font-size="8" dy="-5">2-</tspan></text>
<text x="1462" y="790">O<tspan font-size="8" dy="-5">2-</tspan></text>
</g>
</svg>
</body></html>
